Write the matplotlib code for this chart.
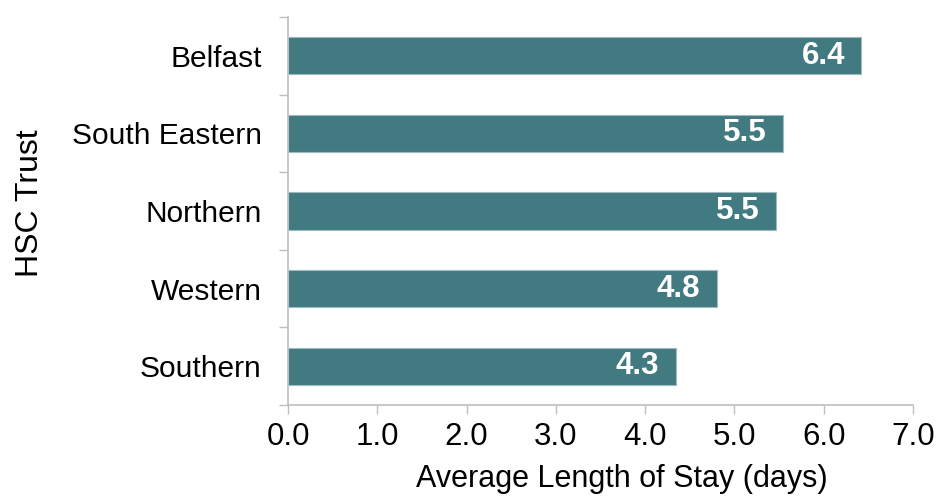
import matplotlib
matplotlib.use("Agg")
import matplotlib.pyplot as plt

# Average length of stay by HSC Trust (days)
trusts = ["Belfast", "South Eastern", "Northern", "Western", "Southern"]
avg_stay = [6.42, 5.54, 5.46, 4.80, 4.34]
x_ticks = [0.0, 1.0, 2.0, 3.0, 4.0, 5.0, 6.0, 7.0]

plt.rcParams["font.family"] = ["Liberation Sans", "DejaVu Sans"]

bar_color = "#427A82"
spine_color = "#BFBFBF"

fig = plt.figure(figsize=(9.41, 4.97), dpi=100)
ax = fig.add_axes([288 / 941, 1 - 405 / 497, (913 - 288) / 941, (405 - 17) / 497])

ypos = list(range(len(trusts)))[::-1]
ax.barh(ypos, avg_stay, height=0.48, color=bar_color,
        edgecolor="#9DBBBF", linewidth=0.8, zorder=2)

for y, v in zip(ypos, avg_stay):
    ax.text(v - 0.18, y, f"{v:.1f}", ha="right", va="center",
            color="white", fontsize=22.5, fontweight="bold", zorder=3)

ax.set_xlim(0, 7)
ax.set_ylim(-0.5, len(trusts) - 0.5)
ax.set_xticks(x_ticks)
ax.set_xticklabels([f"{t:.1f}" for t in x_ticks])
ax.set_yticks(ypos)
ax.set_yticklabels(trusts)
ax.set_yticks([i - 0.5 for i in range(len(trusts) + 1)], minor=True)

ax.tick_params(axis="x", length=6.5, width=1, color=spine_color,
               labelsize=22.5, pad=6)
ax.tick_params(axis="y", which="major", length=0, labelsize=21.5, pad=19)
ax.tick_params(axis="y", which="minor", length=6.5, width=1, color=spine_color)

for side in ("top", "right"):
    ax.spines[side].set_visible(False)
for side in ("left", "bottom"):
    ax.spines[side].set_color(spine_color)
    ax.spines[side].set_linewidth(1.2)

ax.set_xlabel("Average Length of Stay (days)", fontsize=22)
ax.xaxis.set_label_coords(0.534, -0.153)
ax.set_ylabel("HSC Trust", fontsize=23)
ax.yaxis.set_label_coords(-0.388, 0.52)

fig.savefig("out.png", dpi=100)
